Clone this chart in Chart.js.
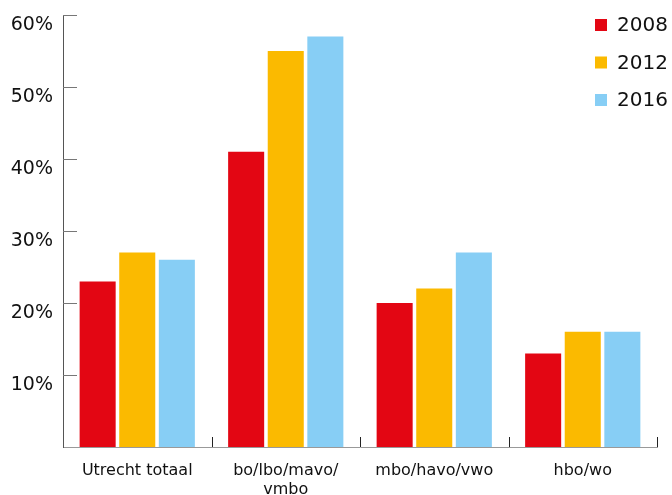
<!DOCTYPE html>
<html>
<head>
<meta charset="utf-8">
<script src="https://cdn.jsdelivr.net/npm/chart.js@4/dist/chart.umd.min.js"></script>
<style>
  html, body { margin: 0; padding: 0; background: #fff; }
  #wrap { width: 672px; height: 495px; position: relative; }
</style>
</head>
<body>
<div id="wrap"><canvas id="chart"></canvas></div>
<script>
var categories = ["Utrecht totaal", ["bo/lbo/mavo/", "vmbo"], "mbo/havo/vwo", "hbo/wo"];
var years = ["2008", "2012", "2016"];
var values2008 = [23, 41, 20, 13];
var values2012 = [27, 55, 22, 16];
var values2016 = [26, 57, 27, 16];
var yTicks = [0, 10, 20, 30, 40, 50, 60];
var colors = ["#e30613", "#fbba00", "#87cef5"];
var fontFamily = '"DejaVu Sans", Verdana, sans-serif';

// inside ticks on the y axis, upward category ticks on the x axis
var axisMarks = {
    id: "axisMarks",
    afterDraw: function (chart) {
        var ctx = chart.ctx, area = chart.chartArea,
            y = chart.scales.y, x = chart.scales.x;
        ctx.save();
        ctx.lineWidth = 1;
        ctx.strokeStyle = "#777";
        y.ticks.forEach(function (t) {
            if (t.value === 0) return;
            var py = Math.round(y.getPixelForValue(t.value)) + 0.5;
            ctx.beginPath();
            ctx.moveTo(area.left, py);
            ctx.lineTo(area.left + 14, py);
            ctx.stroke();
        });
        ctx.strokeStyle = "#222";
        for (var i = 1; i <= categories.length; i++) {
            var px = Math.round(x.getPixelForValue(i - 0.5)) + 0.5;
            ctx.beginPath();
            ctx.moveTo(px, area.bottom);
            ctx.lineTo(px, area.bottom - 10);
            ctx.stroke();
        }
        ctx.restore();
    }
};

// legend in the top right corner
var cornerLegend = {
    id: "cornerLegend",
    afterDraw: function (chart) {
        var ctx = chart.ctx;
        ctx.save();
        ctx.font = "20px " + fontFamily;
        ctx.textBaseline = "middle";
        chart.data.datasets.forEach(function (ds, i) {
            var cy = 25 + i * 37.5;
            ctx.fillStyle = ds.backgroundColor;
            ctx.fillRect(595, cy - 6, 12, 12);
            ctx.fillStyle = "#111";
            ctx.fillText(ds.label, 617, cy + 1);
        });
        ctx.restore();
    }
};

var sets = [values2008, values2012, values2016];
new Chart(document.getElementById("chart"), {
    type: "bar",
    data: {
        labels: categories,
        datasets: years.map(function (yr, i) {
            return {
                label: yr,
                data: sets[i],
                backgroundColor: colors[i],
                categoryPercentage: 0.8,
                barPercentage: 0.91
            };
        })
    },
    options: {
        responsive: true,
        maintainAspectRatio: false,
        animation: false,
        layout: { padding: { top: 15, right: 15, left: 0, bottom: 0 } },
        plugins: { legend: { display: false }, tooltip: { enabled: false } },
        scales: {
            x: {
                grid: { display: false, drawTicks: false },
                border: { color: "#999", width: 1 },
                ticks: {
                    color: "#111",
                    font: { family: fontFamily, size: 16 },
                    padding: 14,
                    maxRotation: 0
                },
                afterFit: function (s) {
                    s.height = 48;
                    s.paddingLeft = 0;
                    s.paddingRight = 0;
                }
            },
            y: {
                min: 0,
                max: 60,
                afterBuildTicks: function (s) {
                    s.ticks = yTicks.map(function (v) { return { value: v }; });
                },
                grid: { display: false, drawTicks: false },
                border: { color: "#555", width: 1 },
                ticks: {
                    color: "#111",
                    font: { family: fontFamily, size: 19 },
                    padding: 10,
                    labelOffset: 10,
                    callback: function (v) { return v === 0 ? "" : v + "%"; }
                },
                afterFit: function (s) {
                    s.width = 63;
                    s.paddingTop = 0;
                    s.paddingBottom = 0;
                }
            }
        }
    },
    plugins: [axisMarks, cornerLegend]
});
</script>
</body>
</html>
